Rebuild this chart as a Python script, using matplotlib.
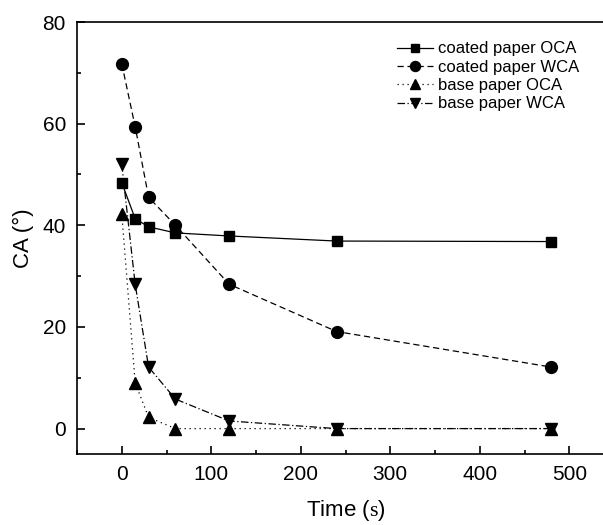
import matplotlib
matplotlib.use("Agg")
import matplotlib.pyplot as plt
from matplotlib.ticker import MultipleLocator

plt.rcParams['font.family'] = ['Liberation Sans', 'DejaVu Sans']
plt.rcParams['mathtext.fontset'] = 'custom'
plt.rcParams['mathtext.rm'] = 'Liberation Serif'

time_s = [0, 15, 30, 60, 120, 240, 480]
coated_oca = [48.4, 41.3, 39.7, 38.5, 37.9, 36.9, 36.8]
coated_wca = [71.8, 59.4, 45.5, 40.0, 28.4, 19.1, 12.1]
base_oca = [42.3, 9.0, 2.2, 0.0, 0.0, 0.0, 0.0]
base_wca = [52.0, 28.4, 12.1, 5.8, 1.5, 0.0, 0.0]

fig = plt.figure(figsize=(6.03, 5.25), dpi=100)
ax = fig.add_axes([77 / 603, 1 - 454 / 525, 537 / 603, 432 / 525])

ax.plot(time_s, coated_oca, color='black', linestyle='-', linewidth=0.9,
        marker='s', markersize=7.5, label='coated paper OCA')
ax.plot(time_s, coated_wca, color='black', linestyle=(0, (5, 3)), linewidth=0.9,
        marker='o', markersize=8.5, label='coated paper WCA')
ax.plot(time_s, base_oca, color='black', linestyle=(0, (1, 3)), linewidth=0.9,
        marker='^', markersize=8.5, label='base paper OCA')
ax.plot(time_s, base_wca, color='black', linestyle=(0, (6, 2, 1, 2)), linewidth=0.9,
        marker='v', markersize=8.5, label='base paper WCA')

ax.set_xlim(-50, 550)
ax.set_ylim(-5, 80)
ax.xaxis.set_major_locator(MultipleLocator(100))
ax.xaxis.set_minor_locator(MultipleLocator(50))
ax.yaxis.set_major_locator(MultipleLocator(20))
ax.yaxis.set_minor_locator(MultipleLocator(10))
ax.tick_params(which='both', direction='in', labelsize=15, width=1.2)
ax.tick_params(which='major', length=6, pad=8)
ax.tick_params(which='minor', length=3)
ax.spines['right'].set_visible(False)
for s in ['left', 'bottom', 'top']:
    ax.spines[s].set_linewidth(1.2)

ax.set_xlabel(r'Time ($\mathrm{s}$)', fontsize=16, labelpad=10)
ax.set_ylabel('CA (°)', fontsize=16, labelpad=6)

ax.legend(loc='upper left', bbox_to_anchor=(0.596, 0.955), frameon=False,
          fontsize=12, handlelength=2.15, handletextpad=0.3, labelspacing=0.2,
          borderpad=0, borderaxespad=0, markerscale=0.85)

fig.savefig('out.png', dpi=100)
